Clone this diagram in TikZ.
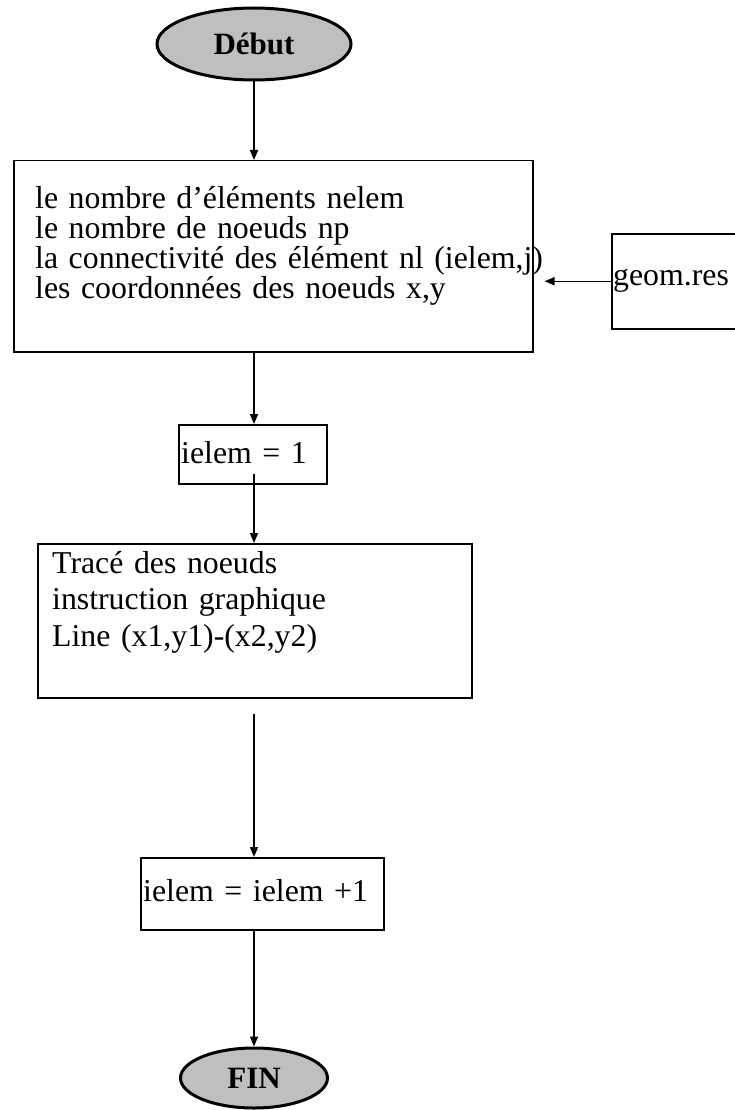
\documentclass[tikz,border=0pt]{standalone}
\usepackage{fontspec}
\setmainfont{Liberation Serif}
\usetikzlibrary{arrows.meta, calc, shapes.geometric}

\tikzset{
	boite/.style = {draw, line width = 1.5pt, anchor = north west, inner sep = 0pt},
	texte/.style = {anchor = base west, align = left, inner sep = 0pt, text width = 560pt},
	terminal/.style = {ellipse, draw, line width = 3pt, fill = lightgray, inner sep = 0pt,
		font = \bfseries\fontsize{31}{36}\selectfont},
	fleche/.style = {line width = 1.5pt, -{Triangle[length = 10pt, width = 8pt]}}
}

\begin{document}
\begin{tikzpicture}[x = 1pt, y = -1pt]
		\useasboundingbox (0,0) rectangle (734,1110);
		
		\begin{scope}
			\node [terminal, minimum width = 194pt, minimum height = 72pt] (debut) at (254,44) {Début};
			\node [terminal, minimum width = 147pt, minimum height = 60pt] (fin) at (254,1078) {FIN};
		\end{scope}
		
		\begin{scope}
			\node [boite, minimum width = 519pt, minimum height = 191pt] (donnees) at (13,160) {};
			\node [boite, minimum width = 150pt, minimum height = 95pt] (geom) at (611,233) {};
			\node [boite, minimum width = 148pt, minimum height = 59pt] (init) at (178,424) {};
			\node [boite, minimum width = 434pt, minimum height = 154pt] (trace) at (37,543) {};
			\node [boite, minimum width = 243pt, minimum height = 72pt] (increment) at (140,857) {};
		\end{scope}
		
		\begin{scope}[font = \fontsize{31.8}{30}\selectfont]
			\node [texte] (t-donnees) at ($(donnees.north west)+(22,48)$)
				{le nombre d’éléments nelem\\
				le nombre de noeuds np\\
				la connectivité des élément nl (ielem,j)\\
				les coordonnées des noeuds x,y};
			\node [texte] (t-geom) at ($(geom.north west)+(2,52)$) {geom.res};
			\node [texte] (t-init) at ($(init.north west)+(3,39)$) {ielem = 1};
			\node [texte] (t-increment) at ($(increment.north west)+(3,44)$) {ielem = ielem +1};
		\end{scope}
		
		\begin{scope}[font = \fontsize{31.8}{36.5}\selectfont]
			\node [texte] (t-trace) at ($(trace.north west)+(15,30)$)
				{Tracé des noeuds\\
				instruction graphique\\
				Line (x1,y1)-(x2,y2)};
		\end{scope}
		
		\begin{scope}
			\draw [fleche] (debut.south) -- (debut.south |- donnees.north);
			\draw [fleche, shorten > = 11pt] (geom.west) -- (geom.west -| donnees.east);
			\draw [fleche] (donnees.south -| debut) -- (init.north -| debut);
			\draw [fleche, shorten < = -11pt] (init.south -| debut) -- (trace.north -| debut);
			\draw [fleche, shorten < = 15pt] (trace.south -| debut) -- (increment.north -| debut);
			\draw [fleche] (increment.south -| debut) -- (fin.north);
		\end{scope}
	\end{tikzpicture}
\end{document}
